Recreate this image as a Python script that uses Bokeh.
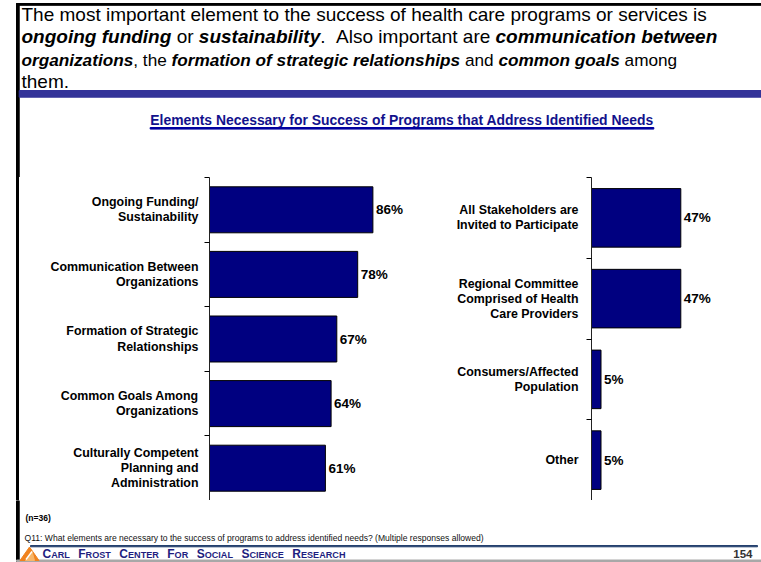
from bokeh.plotting import figure
from bokeh.models import Range1d, FixedTicker, Div
from bokeh.layouts import row, column
from bokeh.core.properties import value
from bokeh.embed import file_html
from bokeh.resources import INLINE

# ---------------- data ----------------
left_labels = ["Ongoing Funding/\nSustainability",
               "Communication Between\nOrganizations",
               "Formation of Strategic\nRelationships",
               "Common Goals Among\nOrganizations",
               "Culturally Competent\nPlanning and\nAdministration"]
left_values = [86, 78, 67, 64, 61]

right_labels = ["All Stakeholders are\nInvited to Participate",
                "Regional Committee\nComprised of Health\nCare Providers",
                "Consumers/Affected\nPopulation",
                "Other"]
right_values = [47, 47, 5, 5]

chart_title = "Elements Necessary for Success of Programs that Address Identified Needs"
header_lines = [
    [("The most important element to the success of health care programs or services is", "n")],
    [("ongoing funding", "b"), (" or ", "n"), ("sustainability", "b"), (".", "n"),
     ("  Also important are ", "n"), ("communication between", "b")],
    [("organizations", "b"), (", the ", "n"), ("formation of strategic relationships", "b"),
     (" and ", "n"), ("common goals", "b"), (" among", "n")],
    [("them.", "n")],
]
sample_note = "(n=36)"
question_note = "Q11: What elements are necessary to the success of programs to address identified needs? (Multiple responses allowed)"
footer_words = ["Carl", "Frost", "Center", "for", "Social", "Science", "Research"]
page_number = "154"

FONT = "Liberation Sans"
BAR_FILL = "#000080"
MID = 0.35  # distance from alphabetic baseline to the 'middle' anchor, in em

# --------------- font metrics (Arial-compatible, per 1000 em) ---------------
def _table(groups):
    t = {}
    for w, chars in groups:
        for c in chars:
            t[c] = w
    return t

REG = _table([(191, "'"), (222, "ijl"), (278, " ,./:;!ftI"), (333, "r()-"), (355, '"'),
              (500, "cksvxyzJ"), (556, "abdeghnopqu0123456789?$#L"), (584, "=+"),
              (611, "FTZ"), (667, "ABEKPSVXY&"), (722, "CDHNRUw"), (778, "GOQ"),
              (833, "mM"), (889, "%"), (944, "W")])
BOLD = _table([(238, "'"), (278, "ijlI ,./"), (333, "ft():!-;"), (389, "r"), (474, '"'),
               (500, "z"), (556, "acekvxysJ0123456789$#"), (584, "=+"),
               (611, "bdghnopquLFTZ?"), (667, "EPSVXY"), (722, "ABCDHKNRU&"),
               (778, "GOQw"), (833, "M"), (889, "m%"), (944, "W")])

def text_width(s, size, bold=False):
    t = BOLD if bold else REG
    return sum(t.get(c, 556) for c in s) * size / 1000.0

def bare(p):
    p.xgrid.visible = False
    p.ygrid.visible = False
    p.outline_line_color = None
    p.background_fill_color = "white"
    p.border_fill_color = "white"
    return p

def panel(w, x0, x1, y0, y1):
    return bare(figure(width=w, height=int(y1 - y0), x_range=Range1d(x0, x1),
                       y_range=Range1d(y1, y0), min_border=0, toolbar_location=None,
                       output_backend="svg", x_axis_location=None, y_axis_location=None))

ROW_TOP, ROW_BOT = 177, 500   # vertical extent of the two category axes
STRIP_W = 40

# ---------------- top panel (header text, band, chart title) ----------------
top = panel(761, 0, 761, 0, ROW_TOP)
top.quad(left=[16], right=[761], top=[3], bottom=[4.8], color="black")
top.quad(left=[16], right=[18.7], top=[3], bottom=[ROW_TOP], color="black")
top.quad(left=[18.7], right=[761], top=[90], bottom=[96.7], color="#333399")

line_sizes = [19, 19, 17.2, 19]
base_y = [20.7, 43.1, 65.5, 87.9]
seg = {"n": ([], [], [], []), "b": ([], [], [], [])}
for line, yb, hs in zip(header_lines, base_y, line_sizes):
    x = 21.0
    for s, st in line:
        bold = st == "b"
        lead = len(s) - len(s.lstrip(" "))
        xs = x + text_width(" " * lead, hs, bold)
        txt = s.strip(" ")
        if txt:
            seg[st][0].append(xs)
            seg[st][1].append(yb - MID * hs)
            seg[st][2].append(txt)
            seg[st][3].append(f"{hs}px")
        x += text_width(s, hs, bold)
top.text(x=seg["n"][0], y=seg["n"][1], text=seg["n"][2], text_font=value(FONT),
         text_font_size=seg["n"][3], text_baseline="middle", text_align="left",
         text_color="black")
top.text(x=seg["b"][0], y=seg["b"][1], text=seg["b"][2], text_font=value(FONT),
         text_font_size=seg["b"][3], text_font_style="bold italic",
         text_baseline="middle", text_align="left", text_color="black")

TSIZE = 13.9
tcx = 401.5
top.text(x=[tcx], y=[124.6 - MID * TSIZE], text=[chart_title], text_font=value(FONT),
         text_font_size=f"{TSIZE}px", text_font_style="bold", text_align="center",
         text_baseline="middle", text_color="#12128c")
tw = text_width(chart_title, TSIZE, True)
top.quad(left=[tcx - tw / 2], right=[tcx + tw / 2], top=[127], bottom=[128.6], color="#0000a0")

# ---------------- left strip (page border beside the charts) ----------------
strip = Div(width=STRIP_W, height=ROW_BOT - ROW_TOP, margin=0,
            text=(f'<div style="margin:0 0 0 16px;padding:0;width:2.7px;'
                  f'height:{ROW_BOT - ROW_TOP}px;background:#000000;"></div>'))

# ---------------- bar charts ----------------
def bar_chart(labels, values, width, border_left, x_end, bar_h, standoff):
    n = len(labels)
    ypos = [n - 0.5 - i for i in range(n)]
    p = bare(figure(width=width, height=ROW_BOT - ROW_TOP, x_range=Range1d(0, x_end),
                    y_range=Range1d(0, n), min_border=0, min_border_left=border_left,
                    toolbar_location=None, output_backend="svg", x_axis_location=None,
                    y_axis_location="left"))
    p.hbar(y=ypos, left=0, right=values, height=bar_h, fill_color=BAR_FILL,
           line_color="black", line_width=1)
    p.text(x=values, y=ypos, text=[f"{v}%" for v in values], x_offset=3,
           text_font=value(FONT), text_font_size="13.5px", text_font_style="bold",
           text_baseline="middle", text_align="left", text_color="black")
    ax = p.yaxis[0]
    ax.ticker = FixedTicker(ticks=ypos, minor_ticks=list(range(n + 1)))
    ax.major_label_overrides = {float(y): lab for y, lab in zip(ypos, labels)}
    ax.major_tick_line_color = None
    ax.major_tick_in = 0
    ax.major_tick_out = 0
    ax.minor_tick_line_color = "black"
    ax.minor_tick_in = 0
    ax.minor_tick_out = 5
    ax.axis_line_color = "#222222"
    ax.major_label_standoff = standoff
    ax.major_label_text_font = FONT
    ax.major_label_text_font_size = "12.4px"
    ax.major_label_text_font_style = "bold"
    ax.major_label_text_color = "black"
    ax.major_label_text_line_height = 1.08
    return p

left_chart = bar_chart(left_labels, left_values, 420 - STRIP_W, 209 - STRIP_W, 211 / 1.9,
                       0.712, 6)
right_chart = bar_chart(right_labels, right_values, 341, 171, 170 / 1.9, 0.725, 8)

# ---------------- bottom panel (notes and footer) ----------------
bot = panel(761, 0, 761, ROW_BOT, 562)
bot.quad(left=[16], right=[18.7], top=[ROW_BOT], bottom=[562], color="black")
bot.text(x=[25], y=[517.7], text=[sample_note], text_font=value(FONT), text_font_size="8.5px",
         text_font_style="bold", text_baseline="middle", text_color="black")
qsize = 460 / (text_width(question_note, 1000) / 1000.0)
bot.text(x=[24], y=[537.6], text=[question_note], text_font=value(FONT),
         text_font_size=f"{qsize:.2f}px", text_baseline="middle", text_color="#111111")
bot.quad(left=[30], right=[757], top=[545], bottom=[546.3], color="#24406e")
bot.quad(left=[16], right=[761], top=[559.5], bottom=[561], color="#a8a8a8")

# logo
bot.patch(x=[19.5, 29, 38.5], y=[560, 546.5, 560], color="#f0821e")
bot.patch(x=[25, 31.5, 34], y=[560, 551, 560], color="#f7b66a")
bot.segment(x0=[25.5], y0=[559], x1=[31.5], y1=[551], line_color="white", line_width=1.4)

# small caps footer title, spread over the width it takes in the reference
FS = 12.0
SC = 0.76
FOOT_BASE = 557.7
words = []
for w in footer_words:
    up = w.upper()
    words.append((up[0], up[1:], text_width(up[0], FS, True) + text_width(up[1:], FS * SC, True)))
natural = sum(ww for _, _, ww in words)
gap = (303 - natural) / (len(words) - 1)
bx, by, bt, sx, sy, st = [], [], [], [], [], []
x = 42.0
for big, small, ww in words:
    bx.append(x); by.append(FOOT_BASE - MID * FS); bt.append(big)
    if small:
        sx.append(x + text_width(big, FS, True)); sy.append(FOOT_BASE - MID * FS * SC)
        st.append(small)
    x += ww + gap
bot.text(x=bx, y=by, text=bt, text_font=value(FONT), text_font_size=f"{FS}px",
         text_font_style="bold", text_baseline="middle", text_color="#1e1e80")
bot.text(x=sx, y=sy, text=st, text_font=value(FONT), text_font_size=f"{FS * SC:.2f}px",
         text_font_style="bold", text_baseline="middle", text_color="#1e1e80")
bot.text(x=[752], y=[557.5 - MID * 11.5], text=[page_number], text_font=value(FONT),
         text_font_size="11.5px", text_font_style="bold", text_align="right",
         text_baseline="middle", text_color="#333333")

layout = column(top, row(strip, left_chart, right_chart, spacing=0), bot, spacing=0)
open("out.html", "w").write(file_html(layout, INLINE))
